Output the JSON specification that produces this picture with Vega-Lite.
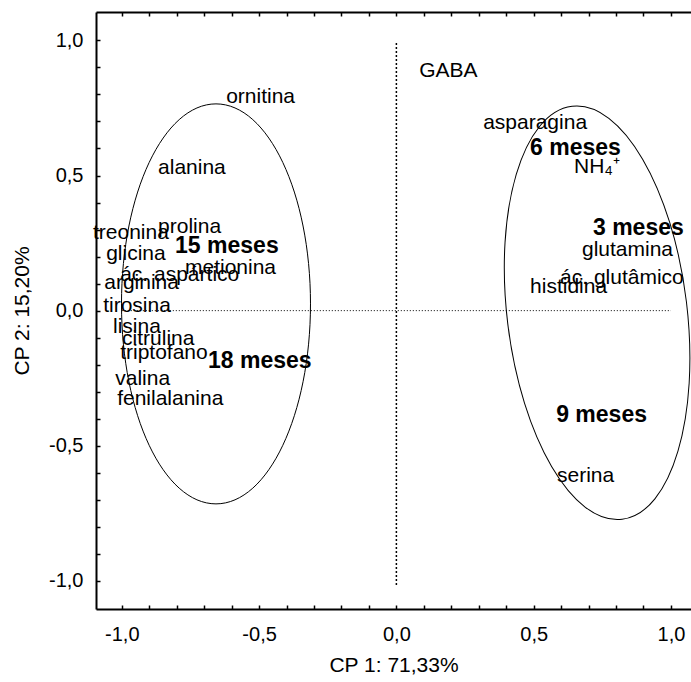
{
  "$schema": "https://vega.github.io/schema/vega-lite/v6.json",
  "width": 595,
  "height": 597,
  "autosize": {"type": "none"},
  "padding": {"left": 96, "top": 12, "right": 0, "bottom": 73},
  "background": "white",
  "config": {
    "view": {"stroke": null},
    "axis": {
      "grid": false,
      "domainColor": "#000",
      "domainWidth": 2,
      "tickColor": "#000",
      "tickWidth": 1.5,
      "tickSize": -4,
      "labelColor": "#000",
      "titleColor": "#000",
      "labelFont": "Liberation Sans",
      "titleFont": "Liberation Sans",
      "titleFontWeight": "normal",
      "labelFontSize": 20,
      "titleFontSize": 21,
      "labelOverlap": false,
      "labelFlush": false
    },
    "text": {"font": "Liberation Sans", "color": "#000"}
  },
  "datasets": {
    "hline": [{"x": -1.0, "x2": 1.0, "y": 0.0}],
    "vline": [{"x": 0.0, "y": -1.015, "y2": 0.99}],
    "elipse_izq": [{"grupo": "15 y 18 meses", "x": -0.657, "y": 0.025}],
    "elipse_der": [{"grupo": "3, 6 y 9 meses", "x": 0.731, "y": -0.008}],
    "variables": [
      {"nombre": "ornitina", "x": -0.620, "y": 0.768},
      {"nombre": "alanina", "x": -0.868, "y": 0.505},
      {"nombre": "prolina", "x": -0.868, "y": 0.287},
      {"nombre": "treonina", "x": -1.105, "y": 0.264},
      {"nombre": "glicina", "x": -1.057, "y": 0.188},
      {"nombre": "metionina", "x": -0.770, "y": 0.136},
      {"nombre": "ác. aspártico", "x": -1.006, "y": 0.108},
      {"nombre": "arginina", "x": -1.064, "y": 0.079},
      {"nombre": "tirosina", "x": -1.068, "y": -0.004},
      {"nombre": "lisina", "x": -1.032, "y": -0.083},
      {"nombre": "citrulina", "x": -0.999, "y": -0.127},
      {"nombre": "triptofano", "x": -1.006, "y": -0.180},
      {"nombre": "valina", "x": -1.024, "y": -0.275},
      {"nombre": "fenilalanina", "x": -1.017, "y": -0.349},
      {"nombre": "GABA", "x": 0.083, "y": 0.864},
      {"nombre": "asparagina", "x": 0.316, "y": 0.671},
      {"nombre": "NH₄⁺", "x": 0.647, "y": 0.511},
      {"nombre": "glutamina", "x": 0.676, "y": 0.203},
      {"nombre": "ác. glutâmico", "x": 0.596, "y": 0.099},
      {"nombre": "histidina", "x": 0.487, "y": 0.067},
      {"nombre": "serina", "x": 0.585, "y": -0.633}
    ],
    "grupos": [
      {"nombre": "15 meses", "x": -0.806, "y": 0.213},
      {"nombre": "18 meses", "x": -0.686, "y": -0.213},
      {"nombre": "6 meses", "x": 0.487, "y": 0.576},
      {"nombre": "3 meses", "x": 0.716, "y": 0.280},
      {"nombre": "9 meses", "x": 0.582, "y": -0.411}
    ]
  },
  "resolve": {"axis": {"x": "independent", "y": "independent"}},
  "layer": [
    {
      "data": {"name": "hline"},
      "mark": {"type": "rule", "color": "#000", "strokeWidth": 1, "strokeDash": [1, 2]},
      "encoding": {
        "x": {
          "field": "x", "type": "quantitative",
          "scale": {"domain": [-1.094, 1.073], "nice": false, "zero": false},
          "axis": {
            "orient": "bottom",
            "values": [-1, -0.9, -0.8, -0.7, -0.6, -0.5, -0.4, -0.3, -0.2, -0.1, 0, 0.1, 0.2, 0.3, 0.4, 0.5, 0.6, 0.7, 0.8, 0.9, 1],
            "labelExpr": "abs(datum.value*2 - round(datum.value*2)) < 0.01 ? (datum.value < -0.001 ? '-' : '') + replace(format(abs(datum.value), '.1f'), '.', ',') : ''",
            "labelOverlap": false,
            "labelPadding": 19,
            "title": "CP 1: 71,33%",
            "titlePadding": 10
          }
        },
        "x2": {"field": "x2"},
        "y": {
          "field": "y", "type": "quantitative",
          "scale": {"domain": [-1.104, 1.105], "nice": false, "zero": false},
          "axis": {
            "orient": "left",
            "values": [-1, -0.9, -0.8, -0.7, -0.6, -0.5, -0.4, -0.3, -0.2, -0.1, 0, 0.1, 0.2, 0.3, 0.4, 0.5, 0.6, 0.7, 0.8, 0.9, 1],
            "labelExpr": "abs(datum.value*2 - round(datum.value*2)) < 0.01 ? (datum.value < -0.001 ? '-' : '') + replace(format(abs(datum.value), '.1f'), '.', ',') : ''",
            "labelOverlap": false,
            "labelPadding": 17,
            "title": "CP 2: 15,20%",
            "titlePadding": 16
          }
        }
      }
    },
    {
      "data": {"name": "vline"},
      "mark": {"type": "rule", "color": "#000", "strokeWidth": 1.5, "strokeDash": [2, 2]},
      "encoding": {
        "x": {
          "field": "x", "type": "quantitative",
          "scale": {"domain": [-1.094, 1.073], "nice": false, "zero": false},
          "axis": {
            "orient": "top",
            "values": [-1, -0.9, -0.8, -0.7, -0.6, -0.5, -0.4, -0.3, -0.2, -0.1, 0, 0.1, 0.2, 0.3, 0.4, 0.5, 0.6, 0.7, 0.8, 0.9, 1],
            "labels": false,
            "title": null
          }
        },
        "y": {"field": "y", "type": "quantitative", "scale": {"domain": [-1.104, 1.105], "nice": false, "zero": false}, "axis": null},
        "y2": {"field": "y2"}
      }
    },
    {
      "data": {"name": "elipse_izq"},
      "mark": {
        "type": "point", "filled": false, "stroke": "#000", "strokeWidth": 1, "opacity": 1,
        "shape": "M0,-1C0.2609,-1,0.4725,-0.5523,0.4725,0C0.4725,0.5523,0.2609,1,0,1C-0.2609,1,-0.4725,0.5523,-0.4725,0C-0.4725,-0.5523,-0.2609,-1,0,-1Z",
        "size": 160000
      },
      "encoding": {
        "x": {"field": "x", "type": "quantitative", "scale": {"domain": [-1.094, 1.073], "nice": false, "zero": false}, "axis": null},
        "y": {"field": "y", "type": "quantitative", "scale": {"domain": [-1.104, 1.105], "nice": false, "zero": false}, "axis": null}
      }
    },
    {
      "data": {"name": "elipse_der"},
      "mark": {
        "type": "point", "filled": false, "stroke": "#000", "strokeWidth": 1, "opacity": 1,
        "shape": "M0,-1C0.239,-1,0.4327,-0.5523,0.4327,0C0.4327,0.5523,0.239,1,0,1C-0.239,1,-0.4327,0.5523,-0.4327,0C-0.4327,-0.5523,-0.239,-1,0,-1Z",
        "size": 173056,
        "angle": 353.1
      },
      "encoding": {
        "x": {"field": "x", "type": "quantitative", "scale": {"domain": [-1.094, 1.073], "nice": false, "zero": false}, "axis": null},
        "y": {"field": "y", "type": "quantitative", "scale": {"domain": [-1.104, 1.105], "nice": false, "zero": false}, "axis": null}
      }
    },
    {
      "data": {"name": "variables"},
      "mark": {"type": "text", "align": "left", "baseline": "alphabetic", "fontSize": 21, "font": "Liberation Sans", "color": "#000"},
      "encoding": {
        "x": {"field": "x", "type": "quantitative", "scale": {"domain": [-1.094, 1.073], "nice": false, "zero": false}, "axis": null},
        "y": {"field": "y", "type": "quantitative", "scale": {"domain": [-1.104, 1.105], "nice": false, "zero": false}, "axis": null},
        "text": {"field": "nombre"}
      }
    },
    {
      "data": {"name": "grupos"},
      "mark": {"type": "text", "align": "left", "baseline": "alphabetic", "fontSize": 23, "fontWeight": "bold", "font": "Liberation Sans", "color": "#000"},
      "encoding": {
        "x": {"field": "x", "type": "quantitative", "scale": {"domain": [-1.094, 1.073], "nice": false, "zero": false}, "axis": null},
        "y": {"field": "y", "type": "quantitative", "scale": {"domain": [-1.104, 1.105], "nice": false, "zero": false}, "axis": null},
        "text": {"field": "nombre"}
      }
    }
  ]
}
